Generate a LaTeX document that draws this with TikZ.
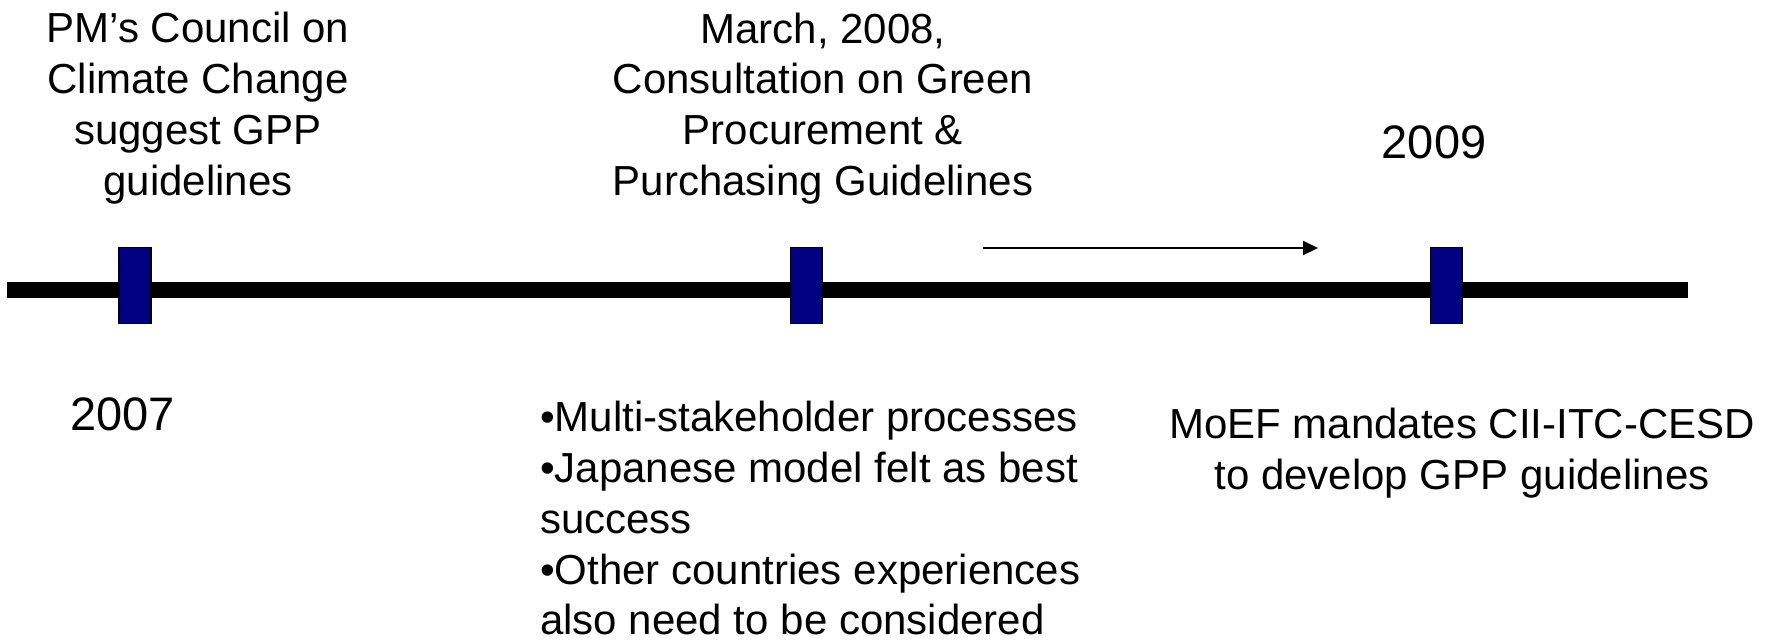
\documentclass[tikz,border=0pt]{standalone}
\usepackage{fontspec}
\setmainfont{Liberation Sans}
\usetikzlibrary{arrows.meta}
\definecolor{markblue}{RGB}{0,0,128}
\begin{document}
\begin{tikzpicture}[x=1pt,y=-1pt,
  txt/.style={anchor=base,inner sep=0pt,font=\fontsize{42}{50.8}\selectfont},
  yeartxt/.style={anchor=base,inner sep=0pt,font=\fontsize{47}{56}\selectfont},
  marker/.style={draw=black,line width=1.5pt,fill=markblue,minimum width=32pt,minimum height=76pt,inner sep=0pt},
  axis/.style={line width=16.6pt,black},
  flow/.style={line width=2pt,-{Triangle[length=15pt,width=14pt]}}]
\useasboundingbox (0,0) rectangle (1775,640);
% timeline
\coordinate (tlS) at (7,290);
\coordinate (tlE) at (1688,290);
\draw[axis] (tlS) -- (tlE);
% markers
\node[marker] (m1) at (135,285.5) {};
\node[marker] (m2) at (806.5,285.5) {};
\node[marker] (m3) at (1446.5,285.5) {};
% arrow
\coordinate (arrS) at (983,248);
\coordinate (arrE) at (1318,248);
\draw[flow] (arrS) -- (arrE);
% texts
\node[txt] (t1) at (198,42.7) {\begin{tabular}[t]{@{}c@{}}PM’s Council on\\Climate Change\\suggest GPP\\guidelines\end{tabular}};
\node[txt] (t2) at (823,43) {\begin{tabular}[t]{@{}c@{}}March, 2008,\\Consultation on Green\\Procurement \&\\Purchasing Guidelines\end{tabular}};
\node[yeartxt] (y2009) at (1434,158.3) {2009};
\node[yeartxt] (y2007) at (122.5,430.7) {2007};
\node[txt,anchor=base west] (b2) at (540,431.7) {\begin{tabular}[t]{@{}l@{}}•Multi-stakeholder processes\\•Japanese model felt as best\\success\\•Other countries experiences\\also need to be considered\end{tabular}};
\node[txt] (b3) at (1462,438.3) {\begin{tabular}[t]{@{}c@{}}MoEF mandates CII-ITC-CESD\\to develop GPP guidelines\end{tabular}};
\end{tikzpicture}
\end{document}
